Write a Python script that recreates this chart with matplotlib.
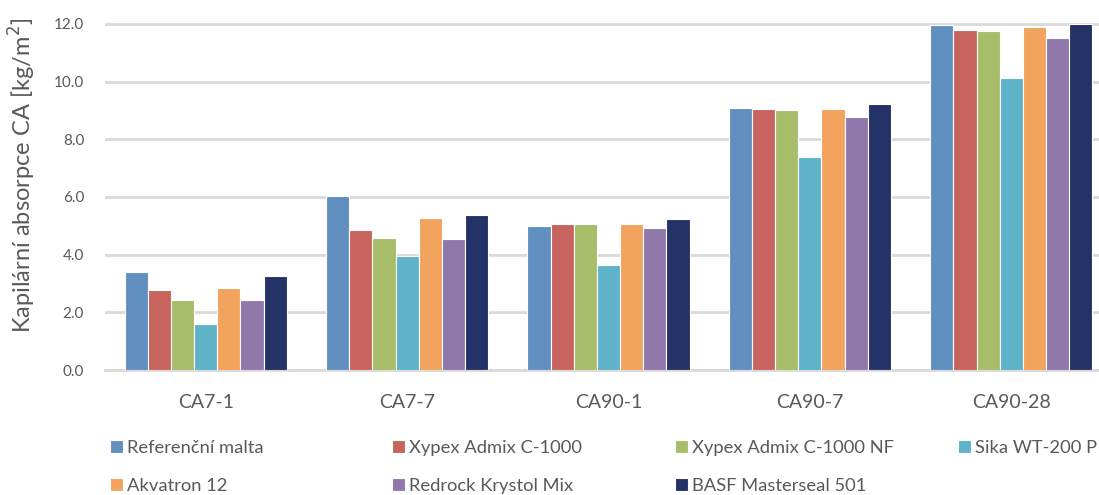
import matplotlib
matplotlib.use("Agg")
import matplotlib.pyplot as plt
import numpy as np

categories = ["CA7-1", "CA7-7", "CA90-1", "CA90-7", "CA90-28"]
series_names = [
    "Referenční malta",
    "Xypex Admix C-1000",
    "Xypex Admix C-1000 NF",
    "Sika WT-200 P",
    "Akvatron 12",
    "Redrock Krystol Mix",
    "BASF Masterseal 501",
]
ref_malta = [3.41, 6.02, 5.00, 9.08, 11.95]
xypex_c1000 = [2.77, 4.85, 5.07, 9.04, 11.78]
xypex_c1000_nf = [2.42, 4.59, 5.06, 9.00, 11.74]
sika_wt200p = [1.61, 3.94, 3.65, 7.39, 10.13]
akvatron_12 = [2.84, 5.27, 5.06, 9.04, 11.88]
redrock_krystol = [2.42, 4.53, 4.92, 8.77, 11.50]
basf_masterseal = [3.25, 5.36, 5.23, 9.23, 11.98]
series_values = [ref_malta, xypex_c1000, xypex_c1000_nf, sika_wt200p,
                 akvatron_12, redrock_krystol, basf_masterseal]
y_ticks = [0, 2, 4, 6, 8, 10, 12]

colors = ["#6190c0", "#c8645e", "#a8bd6a", "#5eb3c8", "#f2a45e", "#9178ab", "#233367"]
text_gray = "#595959"
grid_gray = "#d9d9d9"

font = ["Lato", "DejaVu Sans"]

fig = plt.figure(figsize=(10.99, 4.95), dpi=100)
ax = fig.add_axes([105 / 1099, 1 - 370 / 495, 1007 / 1099, 347 / 495])

x = np.arange(len(categories))
n = len(series_values)
group_w = 0.805
bar_w = group_w / n
bars = []
for i, (name, vals) in enumerate(zip(series_names, series_values)):
    offs = -group_w / 2 + bar_w * (i + 0.5)
    b = ax.bar(x + offs, vals, width=bar_w, color=colors[i], edgecolor="white",
               linewidth=0.8, label=name, zorder=3)
    bars.append(b)

ax.set_xlim(-0.5, len(categories) - 0.5)
ax.set_ylim(0, 12.03)
ax.set_yticks(y_ticks)
ax.set_yticklabels([f"{v:.1f}" for v in y_ticks], family=font, fontsize=11, color=text_gray)
ax.set_xticks(x)
ax.set_xticklabels(categories, family=font, fontsize=14, color=text_gray)
ax.tick_params(axis="both", length=0)
ax.tick_params(axis="x", pad=17)
ax.tick_params(axis="y", pad=15)

ax.yaxis.grid(True, color=grid_gray, linewidth=2.0, zorder=0)
ax.set_axisbelow(True)
for s in ["top", "right", "left"]:
    ax.spines[s].set_visible(False)
ax.spines["bottom"].set_color(grid_gray)
ax.spines["bottom"].set_linewidth(2.0)

fig.text(22 / 1099, 1 - 175 / 495, "Kapilární absorpce CA [kg/m$^2$]", rotation=90,
         ha="center", va="center", fontsize=17, color=text_gray, family=font)

# legend laid out as four fixed-width columns
columns = [[0, 4], [1, 5], [2, 6], [3]]
col_x = [110, 392, 675, 958]
for cx, idxs in zip(col_x, columns):
    leg = fig.legend([bars[i] for i in idxs], [series_names[i] for i in idxs],
                     loc="upper left", bbox_to_anchor=(cx / 1099, 1 - 440 / 495),
                     frameon=False, borderpad=0, borderaxespad=0,
                     handlelength=0.72, handleheight=0.72, handletextpad=0.2,
                     labelspacing=1.2,
                     prop={"family": font, "size": 13.2})
    for t in leg.get_texts():
        t.set_color(text_gray)

fig.savefig("out.png", dpi=100)
